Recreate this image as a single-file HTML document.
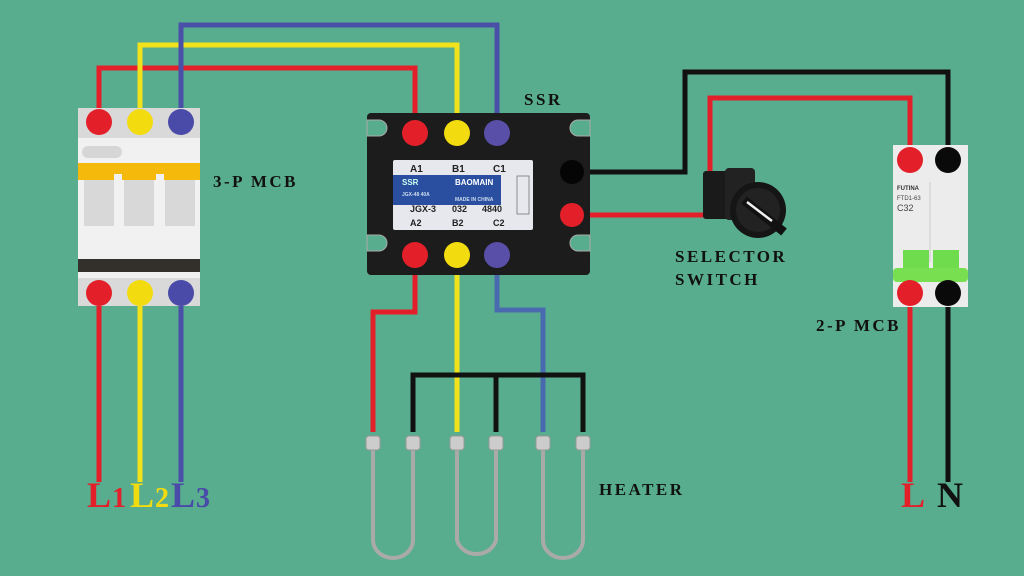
<!DOCTYPE html>
<html><head><meta charset="utf-8"><style>
html,body{margin:0;padding:0;background:#58ad8e;}
svg{display:block}
text{font-family:"Liberation Serif",serif;font-weight:bold}
</style></head><body>
<svg width="1024" height="576" viewBox="0 0 1024 576" xmlns="http://www.w3.org/2000/svg">
<rect width="1024" height="576" fill="#58ad8e"/>
<g fill="none" stroke-width="5" stroke-linejoin="miter">
<polyline points="99,122 99,68 415,68 415,133" stroke="#e3202a"/>
<polyline points="140,122 140,45 457,45 457,133" stroke="#f2e21c"/>
<polyline points="181,122 181,25 497,25 497,133" stroke="#4a4fa8"/>
<line x1="99" y1="293" x2="99" y2="482" stroke="#e3202a"/>
<line x1="140" y1="293" x2="140" y2="482" stroke="#f2e21c"/>
<line x1="181" y1="293" x2="181" y2="482" stroke="#4a4fa8"/>
<polyline points="415,255 415,312 373,312 373,432" stroke="#e3202a"/>
<line x1="457" y1="255" x2="457" y2="432" stroke="#f2e21c"/>
<polyline points="497,255 497,310 543,310 543,432" stroke="#4a6ab0"/>
<polyline points="413,432 413,375 583,375 583,432" stroke="#111"/>
<line x1="496" y1="375" x2="496" y2="432" stroke="#111"/>
<polyline points="580,172 685,172 685,72 948,72 948,160" stroke="#111"/>
<polyline points="580,215 710,215 710,98 910,98 910,160" stroke="#e3202a"/>
<line x1="910" y1="293" x2="910" y2="482" stroke="#e3202a"/>
<line x1="948" y1="293" x2="948" y2="482" stroke="#111"/>
</g>

<rect x="78" y="108" width="122" height="198" fill="#f1f1f1"/>
<rect x="78" y="108" width="122" height="30" fill="#d9d9d9"/>
<rect x="82" y="146" width="40" height="12" rx="6" fill="#d6d6d6"/>
<rect x="78" y="163" width="122" height="17" fill="#f5b90c"/>
<rect x="84" y="180" width="30" height="46" fill="#d8d8d8"/>
<rect x="124" y="180" width="30" height="46" fill="#d8d8d8"/>
<rect x="165" y="180" width="30" height="46" fill="#d8d8d8"/>
<rect x="114" y="174" width="8" height="8" fill="#f1f1f1"/>
<rect x="156" y="174" width="8" height="8" fill="#f1f1f1"/>
<rect x="78" y="259" width="122" height="13" fill="#33302c"/>
<rect x="78" y="278" width="122" height="28" fill="#d9d9d9"/>
<circle cx="99" cy="122" r="13" fill="#e3202a"/><circle cx="140" cy="122" r="13" fill="#f2dc10"/><circle cx="181" cy="122" r="13" fill="#4a4aa8"/>
<circle cx="99" cy="293" r="13" fill="#e3202a"/><circle cx="140" cy="293" r="13" fill="#f2dc10"/><circle cx="181" cy="293" r="13" fill="#4a4aa8"/>

<rect x="367" y="113" width="223" height="162" rx="4" fill="#1c1c1c"/>
<path d="M367,120 h12 a8,8 0 0 1 0,16 h-12z M590,120 h-12 a8,8 0 0 0 0,16 h12z M367,235 h12 a8,8 0 0 1 0,16 h-12z M590,235 h-12 a8,8 0 0 0 0,16 h12z" fill="#58ad8e" stroke="#aaa" stroke-width="1"/>
<rect x="393" y="160" width="140" height="70" rx="2" fill="#e6e8ee"/>
<rect x="393" y="175" width="108" height="30" fill="#2a4fa0"/>
<rect x="517" y="176" width="12" height="38" fill="none" stroke="#666" stroke-width="0.7"/>
<g>
<text x="410" y="172" font-size="10" fill="#222" style="font-family:'Liberation Sans',sans-serif">A1</text>
<text x="452" y="172" font-size="10" fill="#222" style="font-family:'Liberation Sans',sans-serif">B1</text>
<text x="493" y="172" font-size="10" fill="#222" style="font-family:'Liberation Sans',sans-serif">C1</text>
<text x="402" y="185" font-size="8" fill="#cfe" style="font-family:'Liberation Sans',sans-serif">SSR</text>
<text x="455" y="185" font-size="8" fill="#fff" style="font-family:'Liberation Sans',sans-serif">BAOMAIN</text>
<text x="402" y="196" font-size="5" fill="#cde" style="font-family:'Liberation Sans',sans-serif">JGX-48 40A</text>
<text x="455" y="201" font-size="5" fill="#cde" style="font-family:'Liberation Sans',sans-serif">MADE IN CHINA</text>
<text x="410" y="212" font-size="9" fill="#222" style="font-family:'Liberation Sans',sans-serif">JGX-3</text>
<text x="452" y="212" font-size="9" fill="#222" style="font-family:'Liberation Sans',sans-serif">032</text>
<text x="482" y="212" font-size="9" fill="#222" style="font-family:'Liberation Sans',sans-serif">4840</text>
<text x="410" y="226" font-size="9" fill="#222" style="font-family:'Liberation Sans',sans-serif">A2</text>
<text x="452" y="226" font-size="9" fill="#222" style="font-family:'Liberation Sans',sans-serif">B2</text>
<text x="493" y="226" font-size="9" fill="#222" style="font-family:'Liberation Sans',sans-serif">C2</text>
</g>
<circle cx="415" cy="133" r="13" fill="#e3202a"/><circle cx="457" cy="133" r="13" fill="#f2dc10"/><circle cx="497" cy="133" r="13" fill="#5a4fa8"/>
<circle cx="415" cy="255" r="13" fill="#e3202a"/><circle cx="457" cy="255" r="13" fill="#f2dc10"/><circle cx="497" cy="255" r="13" fill="#5a4fa8"/>
<circle cx="572" cy="172" r="12" fill="#050505"/>
<circle cx="572" cy="215" r="12" fill="#e3202a"/>

<rect x="703" y="171" width="28" height="48" rx="3" fill="#1a1a1a"/>
<rect x="725" y="168" width="30" height="52" rx="4" fill="#222"/>
<circle cx="758" cy="210" r="28" fill="#151515"/>
<circle cx="758" cy="210" r="22" fill="#222"/>
<line x1="744" y1="200" x2="784" y2="232" stroke="#111" stroke-width="9"/>
<line x1="747" y1="202" x2="772" y2="221" stroke="#eee" stroke-width="2.5"/>

<rect x="893" y="145" width="75" height="162" fill="#ececec"/>
<line x1="930" y1="182" x2="930" y2="262" stroke="#ccc"/>
<rect x="903" y="250" width="26" height="25" fill="#6edc4c"/>
<rect x="933" y="250" width="26" height="25" fill="#6edc4c"/>
<rect x="893" y="268" width="75" height="14" rx="4" fill="#78e050"/>
<text x="897" y="190" font-size="6" fill="#333" style="font-family:'Liberation Sans',sans-serif">FUTINA</text>
<text x="897" y="200" font-size="6" fill="#444" style="font-family:'Liberation Sans',sans-serif;font-weight:normal">FTD1-63</text>
<text x="897" y="211" font-size="9" fill="#444" style="font-family:'Liberation Sans',sans-serif;font-weight:normal">C32</text>
<circle cx="910" cy="160" r="13" fill="#e3202a"/><circle cx="948" cy="160" r="13" fill="#0a0a0a"/>
<circle cx="910" cy="293" r="13" fill="#e3202a"/><circle cx="948" cy="293" r="13" fill="#0a0a0a"/>

<g fill="none" stroke="#aaa" stroke-width="4">
<path d="M373,448 V540 a20,18 0 0 0 40,0 V448"/>
<path d="M457,448 V540 a20,18 0 0 0 39,0 V448"/>
<path d="M543,448 V540 a20,18 0 0 0 40,0 V448"/>
</g>
<g fill="#ccc" stroke="#999" stroke-width="1">
<rect x="366" y="436" width="14" height="14" rx="3"/><rect x="406" y="436" width="14" height="14" rx="3"/>
<rect x="450" y="436" width="14" height="14" rx="3"/><rect x="489" y="436" width="14" height="14" rx="3"/>
<rect x="536" y="436" width="14" height="14" rx="3"/><rect x="576" y="436" width="14" height="14" rx="3"/>
</g>

<g font-size="17" fill="#111" letter-spacing="2.5">
<text x="524" y="105">SSR</text>
<text x="213" y="187">3-P MCB</text>
<text x="675" y="262">SELECTOR</text>
<text x="675" y="285">SWITCH</text>
<text x="816" y="331">2-P MCB</text>
<text x="599" y="495">HEATER</text>
</g>
<g font-size="36">
<text x="87" y="507" fill="#e3202a">L</text><text x="112" y="507" fill="#e3202a" font-size="28">1</text>
<text x="130" y="507" fill="#f2dc10">L</text><text x="155" y="507" fill="#f2dc10" font-size="28">2</text>
<text x="171" y="507" fill="#4a4aa8">L</text><text x="196" y="507" fill="#4a4aa8" font-size="28">3</text>
<text x="901" y="507" fill="#e3202a">L</text>
<text x="937" y="507" fill="#111">N</text>
</g>
</svg>
</body></html>
